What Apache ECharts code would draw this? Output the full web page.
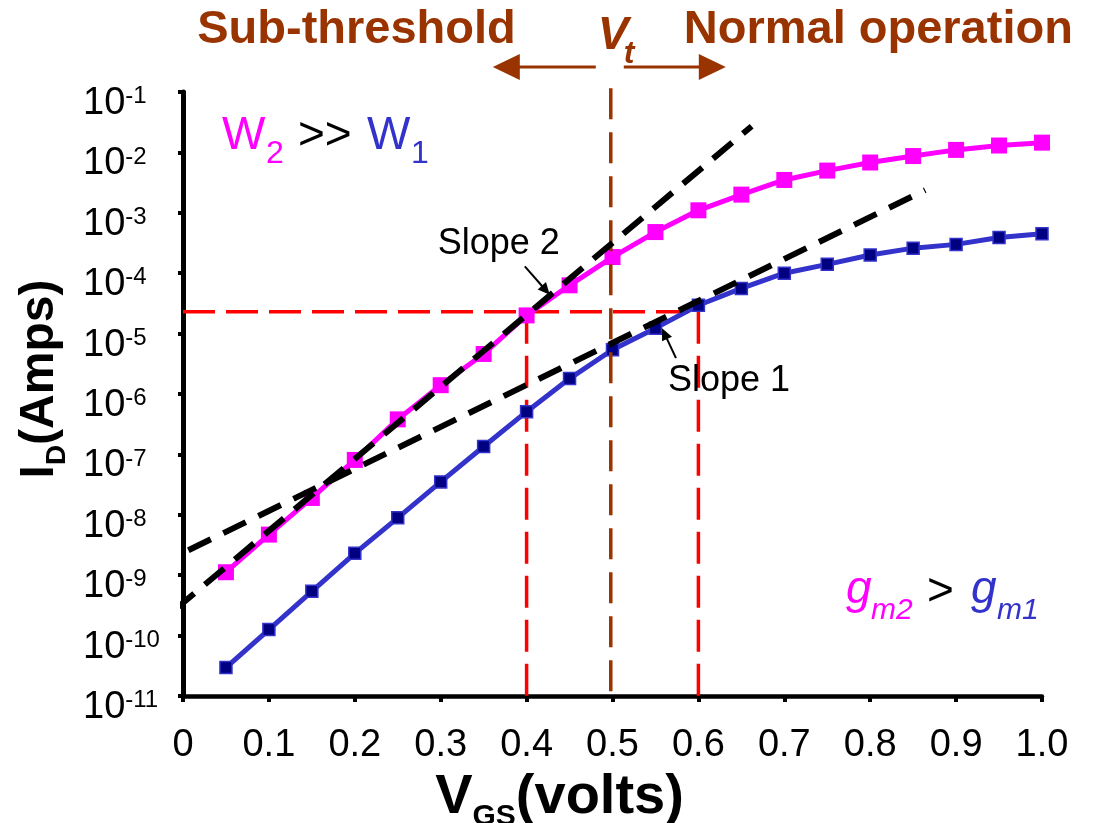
<!DOCTYPE html>
<html>
<head>
<meta charset="utf-8">
<script src="https://cdn.jsdelivr.net/npm/echarts@6/dist/echarts.min.js"></script>
<style>
  html, body { margin: 0; padding: 0; background: #fff; }
  #chart { width: 1096px; height: 823px; }
</style>
</head>
<body>
<div id="chart"></div>
<script>
// Gate voltage sweep (volts)
const vgs = [0.05, 0.10, 0.15, 0.20, 0.25, 0.30, 0.35, 0.40, 0.45, 0.50,
             0.55, 0.60, 0.65, 0.70, 0.75, 0.80, 0.85, 0.90, 0.95, 1.00];
// Drain current of the wide device W2 (amps)
const idW2 = [1.12e-9, 4.7e-9, 1.9e-8, 8.1e-8, 3.8e-7, 1.4e-6, 4.6e-6, 2.0e-5, 6.3e-5, 1.85e-4,
              4.8e-4, 1.1e-3, 2.0e-3, 3.5e-3, 5.0e-3, 6.8e-3, 8.7e-3, 1.1e-2, 1.3e-2, 1.45e-2];
// Drain current of the narrow device W1 (amps)
const idW1 = [2.95e-11, 1.26e-10, 5.4e-10, 2.3e-9, 8.9e-9, 3.5e-8, 1.35e-7, 5.1e-7, 1.8e-6, 5.4e-6,
              1.23e-5, 2.95e-5, 5.6e-5, 1.0e-4, 1.4e-4, 2.0e-4, 2.6e-4, 3.0e-4, 3.9e-4, 4.5e-4];
// Sub-threshold tangent lines: [vgs, amps] end points
const slope2Line = [[-0.0093, 2.7e-10], [0.662, 2.71e-2]];
const slope1Line = [[0.0062, 2.59e-9], [0.864, 2.37e-3]];
// Equal-current reference: same current at two gate voltages
const refCurrent = 2.31e-5;
const refVgs = [0.4, 0.6];
// Threshold voltage marker
const vt = 0.498;
const vtTop = 1.15e-1;
// Axis ranges and ticks
const yMin = 1e-11, yMax = 1e-1;
const xTicks = ['0', '0.1', '0.2', '0.3', '0.4', '0.5', '0.6', '0.7', '0.8', '0.9', '1.0'];
// Points that the slope call-outs point at
const slope2Tip = [0.427, 4.4e-5];
const slope1Tip = [0.5576, 1.23e-5];

const FONT = '"Liberation Sans", Arial, Helvetica, sans-serif';
const PINK = '#FF00FF', BLUE = '#3333CC', NAVY = '#000080', BROWN = '#993300', RED = '#FF0000';

const chart = echarts.init(document.getElementById('chart'), null, { renderer: 'canvas' });

function dashed(name, data, color, width, dash, z) {
  return {
    name, type: 'line', data, z, clip: false, silent: true,
    symbol: 'none', showSymbol: false,
    lineStyle: { color, width, type: dash, cap: 'butt' },
    emphasis: { disabled: true }
  };
}

// main text + lowered subscript for the axis titles
function titleRich(mainSize, subSize, lineH) {
  return {
    m: { fontSize: mainSize, fontWeight: 'bold', fontFamily: FONT, color: '#000', lineHeight: lineH, verticalAlign: 'top' },
    s: { fontSize: subSize, fontWeight: 'bold', fontFamily: FONT, color: '#000', lineHeight: lineH, verticalAlign: 'bottom' }
  };
}

const option = {
  animation: false,
  backgroundColor: '#fff',
  textStyle: { fontFamily: FONT },
  grid: { left: 183, right: 54, top: 92, bottom: 127, containLabel: false, outerBoundsMode: 'none' },
  xAxis: {
    type: 'value', min: 0, max: 1, interval: 0.1,
    axisLine: { show: true, onZero: false, lineStyle: { color: '#000', width: 4.5 } },
    axisTick: { show: true, length: 6, lineStyle: { color: '#000', width: 4 } },
    splitLine: { show: false },
    axisLabel: {
      margin: 31, color: '#000', fontSize: 38, fontFamily: FONT,
      formatter: (v) => xTicks[Math.round(v * 10)]
    },
    name: '{m|V}{s|GS}{m|(volts)}',
    nameLocation: 'middle', nameGap: 64,
    nameTextStyle: { padding: [0, 106, 0, 0], rich: titleRich(56, 30, 62) }
  },
  yAxis: {
    type: 'log', logBase: 10, min: yMin, max: yMax, interval: 1,
    axisLine: { show: true, lineStyle: { color: '#000', width: 5 } },
    axisTick: { show: true, length: 5, lineStyle: { color: '#000', width: 4 } },
    splitLine: { show: false },
    minorTick: { show: false },
    axisLabel: {
      align: 'left', margin: 100, padding: [23, 0, 0, 0],
      formatter: (v) => '{b|10}{s|-' + Math.abs(Math.round(Math.log10(v))) + '}',
      rich: {
        b: { fontSize: 38, fontFamily: FONT, color: '#000', lineHeight: 38, verticalAlign: 'bottom' },
        s: { fontSize: 24, fontFamily: FONT, color: '#000', lineHeight: 24, verticalAlign: 'top' }
      }
    },
    name: '{m|I}{s|D}{m|(Amps)}',
    nameLocation: 'middle', nameGap: 112, nameRotate: 90,
    nameTextStyle: { padding: [0, 0, 0, 30], rich: titleRich(48, 28, 55) }
  },
  series: [
    dashed('ref-h', [[0, refCurrent], [refVgs[1], refCurrent]], RED, 3.5, [32, 11], 1),
    dashed('ref-v1', [[refVgs[0], refCurrent], [refVgs[0], yMin]], RED, 3.5, [32, 12], 1),
    dashed('ref-v2', [[refVgs[1], refCurrent], [refVgs[1], yMin]], RED, 3.5, [32, 12], 1),
    {
      name: 'W2', type: 'line', z: 2, silent: true,
      data: vgs.map((v, i) => [v, idW2[i]]),
      symbol: 'rect', symbolSize: 16, showSymbol: true,
      lineStyle: { color: PINK, width: 5 },
      itemStyle: { color: PINK, borderWidth: 0 },
      emphasis: { disabled: true }
    },
    {
      name: 'W1', type: 'line', z: 3, silent: true,
      data: vgs.map((v, i) => [v, idW1[i]]),
      symbol: 'rect', symbolSize: 12, showSymbol: true,
      lineStyle: { color: BLUE, width: 5 },
      itemStyle: { color: NAVY, borderColor: BLUE, borderWidth: 1.5 },
      emphasis: { disabled: true }
    },
    dashed('vt', [[vt, vtTop], [vt, yMin]], BROWN, 3.5, [31, 13], 4),
    dashed('slope2', slope2Line, '#000', 6, [25, 14], 5),
    dashed('slope1', slope1Line, '#000', 6, [25, 14], 5)
  ]
};

chart.setOption(option);

// ---- annotations ----
const px = (p) => chart.convertToPixel({ gridIndex: 0 }, p);

function arrow(x1, y1, x2, y2, color, width, headLen, headHalf) {
  const dx = x2 - x1, dy = y2 - y1, L = Math.hypot(dx, dy);
  const ux = dx / L, uy = dy / L;
  const bx = x2 - ux * headLen, by = y2 - uy * headLen;
  return [
    { type: 'line', silent: true, z: 10, shape: { x1, y1, x2: bx + ux, y2: by + uy }, style: { stroke: color, lineWidth: width } },
    { type: 'polygon', silent: true, z: 10, shape: { points: [[x2, y2], [bx - uy * headHalf, by + ux * headHalf], [bx + uy * headHalf, by - ux * headHalf]] }, style: { fill: color } }
  ];
}

function txt(text, x, y, size, color, opts) {
  opts = opts || {};
  return {
    type: 'text', silent: true, z: 10, x, y,
    style: {
      text, fill: color, fontSize: size, fontFamily: FONT,
      fontWeight: opts.bold ? 'bold' : 'normal',
      fontStyle: opts.italic ? 'italic' : 'normal',
      align: opts.align || 'left', verticalAlign: 'middle'
    }
  };
}

const vtPx = px([vt, yMax]);
const vx = vtPx[0], gridTop = vtPx[1];
const arrowY = gridTop - 25;
const headY = gridTop - 62;

const s2 = px(slope2Tip);
const s1 = px(slope1Tip);

const graphics = [].concat(
  // region headings around the threshold line
  txt('Sub-threshold', vx - 95, headY, 47, BROWN, { bold: true, align: 'right' }),
  txt('Normal operation', vx + 73, headY, 47, BROWN, { bold: true }),
  txt('V', vx - 13, headY + 6, 46, BROWN, { bold: true, italic: true }),
  txt('t', vx + 13, headY + 24, 32, BROWN, { bold: true, italic: true }),
  arrow(vx - 15, arrowY, vx - 118, arrowY, BROWN, 3, 27, 13),
  arrow(vx + 13, arrowY, vx + 115, arrowY, BROWN, 3, 27, 13),
  // width relation
  txt('W', 222, 136, 46, PINK),
  txt('2', 266, 154, 32, PINK),
  txt('>>', 298, 136, 46, '#000'),
  txt('W', 367, 136, 46, BLUE),
  txt('1', 411, 154, 32, BLUE),
  // transconductance relation
  txt('g', 846, 590, 46, PINK, { italic: true }),
  txt('m2', 871, 611, 30, PINK, { italic: true }),
  txt('>', 927, 592, 46, '#000'),
  txt('g', 971, 590, 46, BLUE, { italic: true }),
  txt('m1', 997, 611, 30, BLUE, { italic: true }),
  // slope call-outs
  txt('Slope 2', s2[0] - 112, s2[1] - 51, 36, '#000'),
  arrow(s2[0] - 25, s2[1] - 28.3, s2[0], s2[1], '#000', 2, 12, 5.5),
  txt('Slope 1', s1[0] + 6, s1[1] + 53, 36, '#000'),
  arrow(s1[0] + 14, s1[1] + 30, s1[0], s1[1], '#000', 2, 12, 5.5)
);

chart.setOption({ graphic: graphics });
</script>
</body>
</html>
